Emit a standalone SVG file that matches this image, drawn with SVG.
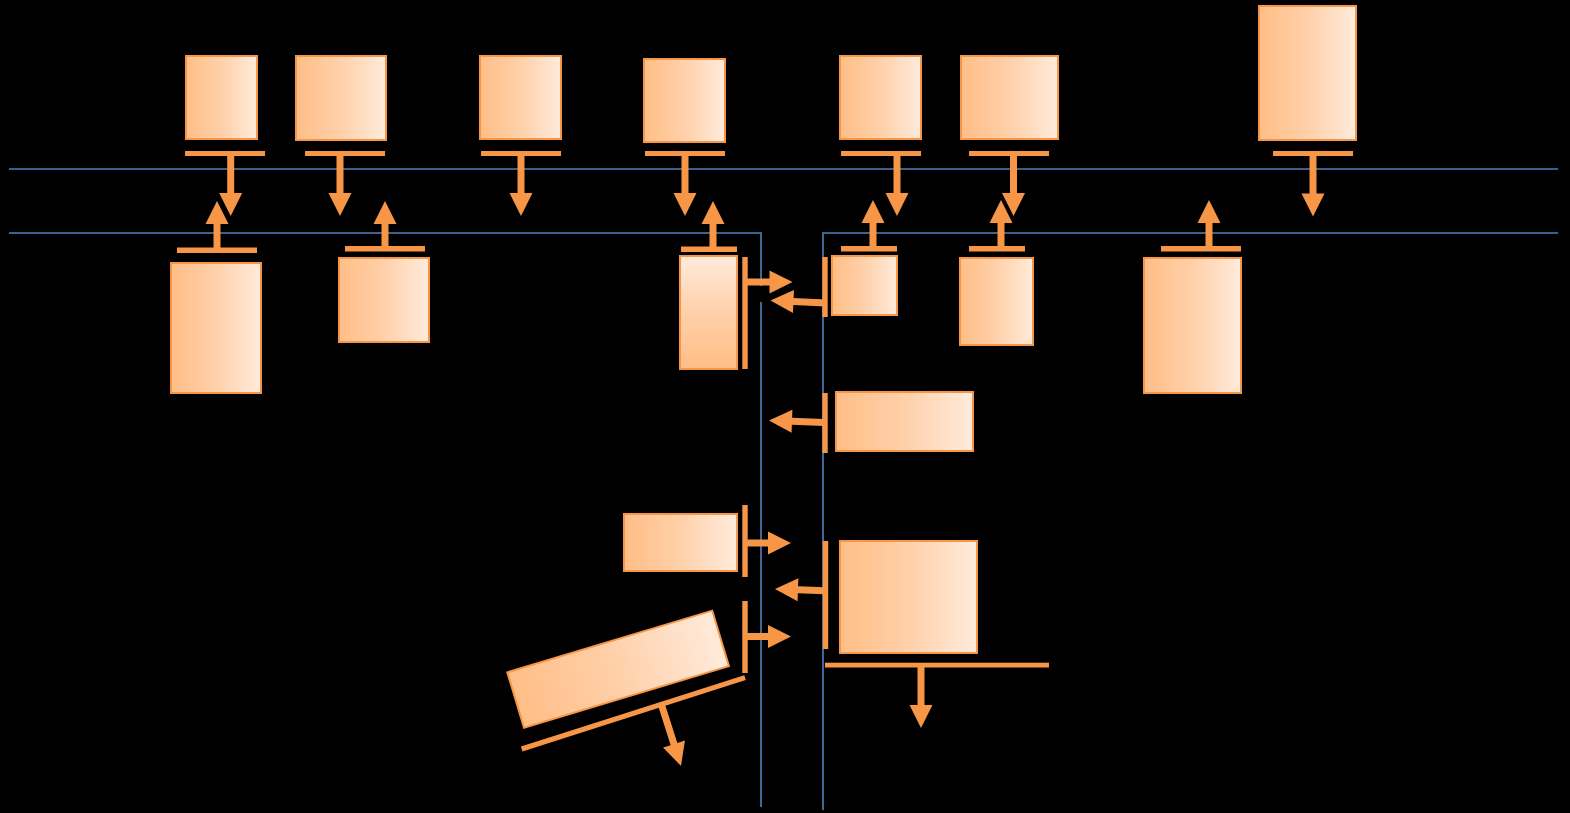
<svg xmlns="http://www.w3.org/2000/svg" width="1570" height="813" viewBox="0 0 1570 813">
  <defs>
    <linearGradient id="fillH" x1="0" y1="0" x2="1" y2="0">
      <stop offset="0" stop-color="#ffbe86"/>
      <stop offset="0.5" stop-color="#ffd0aa"/>
      <stop offset="1" stop-color="#ffebdb"/>
    </linearGradient>
    <linearGradient id="fillV" x1="0" y1="1" x2="0" y2="0">
      <stop offset="0" stop-color="#ffbe86"/>
      <stop offset="0.5" stop-color="#ffd0aa"/>
      <stop offset="1" stop-color="#ffebdb"/>
    </linearGradient>
    <style>
      .box { fill: url(#fillH); stroke: #f79646; stroke-width: 2; }
      .boxv { fill: url(#fillV); stroke: #f79646; stroke-width: 2; }
      .bar { fill: #f79646; }
      .barl { stroke: #f79646; stroke-width: 5; fill: none; }
      .arr { fill: #f79646; }
      .rail { stroke: #4f81bd; stroke-width: 1.6; fill: none; }
    </style>
  </defs>

  <rect x="0" y="0" width="1570" height="813" fill="#000"/>

  <!-- guide rails -->
  <g id="rails">
    <line class="rail" x1="9" y1="169" x2="1558" y2="169"/>
    <polyline class="rail" points="9,233 761,233 761,286"/>
    <line class="rail" x1="761" y1="302" x2="761" y2="807"/>
    <polyline class="rail" points="1558,233 823,233 823,810"/>
  </g>

  <!-- nodes -->
  <g id="n1"><rect class="box" x="186" y="56" width="71" height="83"/></g>
  <g id="n2"><rect class="box" x="296" y="56" width="90" height="84"/></g>
  <g id="n3"><rect class="box" x="480" y="56" width="81" height="83"/></g>
  <g id="n4"><rect class="box" x="644" y="59" width="81" height="83"/></g>
  <g id="n5"><rect class="box" x="840" y="56" width="81" height="83"/></g>
  <g id="n6"><rect class="box" x="961" y="56" width="97" height="83"/></g>
  <g id="n7"><rect class="box" x="1259" y="6" width="97" height="134"/></g>
  <g id="n8"><rect class="box" x="171" y="263" width="90" height="130"/></g>
  <g id="n9"><rect class="box" x="339" y="258" width="90" height="84"/></g>
  <g id="n10"><rect class="boxv" x="680" y="256" width="57" height="113"/></g>
  <g id="n11"><rect class="box" x="832" y="256" width="65" height="59"/></g>
  <g id="n12"><rect class="box" x="960" y="258" width="73" height="87"/></g>
  <g id="n13"><rect class="box" x="1144" y="258" width="97" height="135"/></g>
  <g id="n14"><rect class="box" x="836" y="392" width="137" height="59"/></g>
  <g id="n15"><rect class="box" x="624" y="514" width="113" height="57"/></g>
  <g id="n16"><rect class="box" x="840" y="541" width="137" height="112"/></g>
  <g id="n17"><rect class="box" x="0" y="0" width="214" height="58" transform="translate(507.3,672.3) rotate(-16.75)"/></g>

  <!-- connectors: T-bars and arrows (arrow path: tip at origin, pointing +x) -->
  <g id="connectors">
    <!-- bars above the upper rail -->
    <rect class="bar" x="185" y="151" width="80" height="5"/>
    <rect class="bar" x="305" y="151" width="80" height="5"/>
    <rect class="bar" x="481" y="151" width="80" height="5"/>
    <rect class="bar" x="645" y="151" width="80" height="5"/>
    <rect class="bar" x="841" y="151" width="80" height="5"/>
    <rect class="bar" x="969" y="151" width="80" height="5"/>
    <rect class="bar" x="1273" y="151" width="80" height="5"/>
    <!-- bars below the lower rail -->
    <rect class="bar" x="177" y="247.5" width="80" height="5.5"/>
    <rect class="bar" x="345" y="246" width="80" height="5.5"/>
    <rect class="bar" x="681" y="246.5" width="56" height="5.5"/>
    <rect class="bar" x="841" y="246" width="56" height="5.5"/>
    <rect class="bar" x="969" y="246" width="56" height="5.5"/>
    <rect class="bar" x="1161" y="246" width="80" height="5.5"/>
    <!-- vertical bars beside the channel -->
    <rect class="bar" x="742.3" y="257" width="5.4" height="112"/>
    <rect class="bar" x="822.3" y="257" width="5.4" height="60"/>
    <rect class="bar" x="822.3" y="393" width="5.4" height="60"/>
    <rect class="bar" x="742.3" y="505" width="5.4" height="72"/>
    <rect class="bar" x="742.3" y="601" width="5.4" height="72"/>
    <rect class="bar" x="822.8" y="541" width="5.4" height="108"/>
    <rect class="bar" x="825" y="662.7" width="224" height="4.8"/>
    <line class="barl" x1="521.7" y1="749" x2="745" y2="677.7"/>

    <!-- downward arrows, length 63 -->
    <path class="arr" d="M0,0 l-23,-11.5 v8 h-40 v7 h40 v8 z" transform="translate(230.7,216) rotate(90)"/>
    <path class="arr" d="M0,0 l-23,-11.5 v8 h-40 v7 h40 v8 z" transform="translate(340,216) rotate(90)"/>
    <path class="arr" d="M0,0 l-23,-11.5 v8 h-40 v7 h40 v8 z" transform="translate(521,216) rotate(90)"/>
    <path class="arr" d="M0,0 l-23,-11.5 v8 h-40 v7 h40 v8 z" transform="translate(685,216) rotate(90)"/>
    <path class="arr" d="M0,0 l-23,-11.5 v8 h-40 v7 h40 v8 z" transform="translate(897,216) rotate(90)"/>
    <path class="arr" d="M0,0 l-23,-11.5 v8 h-40 v7 h40 v8 z" transform="translate(1013.5,216) rotate(90)"/>
    <path class="arr" d="M0,0 l-23,-11.5 v8 h-40 v7 h40 v8 z" transform="translate(1313,216.5) rotate(90)"/>
    <path class="arr" d="M0,0 l-23,-11.5 v8 h-40 v7 h40 v8 z" transform="translate(921,728) rotate(90)"/>
    <path class="arr" d="M0,0 l-23,-11.5 v8 h-41 v7 h41 v8 z" transform="translate(681,766) rotate(72.3)"/>

    <!-- upward arrows, length 48 -->
    <path class="arr" d="M0,0 l-23,-11.5 v8 h-26 v7 h26 v8 z" transform="translate(217,201) rotate(-90)"/>
    <path class="arr" d="M0,0 l-23,-11.5 v8 h-25 v7 h25 v8 z" transform="translate(385,201) rotate(-90)"/>
    <path class="arr" d="M0,0 l-23,-11.5 v8 h-25 v7 h25 v8 z" transform="translate(713,201) rotate(-90)"/>
    <path class="arr" d="M0,0 l-23,-11.5 v8 h-26 v7 h26 v8 z" transform="translate(873,200) rotate(-90)"/>
    <path class="arr" d="M0,0 l-23,-11.5 v8 h-26 v7 h26 v8 z" transform="translate(1001,200) rotate(-90)"/>
    <path class="arr" d="M0,0 l-23,-11.5 v8 h-26 v7 h26 v8 z" transform="translate(1209,200) rotate(-90)"/>

    <!-- arrows crossing into the channel -->
    <path class="arr" d="M0,0 l-23,-11.5 v8 h-25 v7 h25 v8 z" transform="translate(792.5,282)"/>
    <path class="arr" d="M0,0 l-23,-11.5 v8 h-25 v7 h25 v8 z" transform="translate(791,543)"/>
    <path class="arr" d="M0,0 l-23,-11.5 v8 h-25 v7 h25 v8 z" transform="translate(791,636.5)"/>

    <!-- arrows leaving the right side toward the channel -->
    <path class="arr" d="M0,0 l-23,-11.5 v8 h-32 v7 h32 v8 z" transform="translate(770.5,300.5) rotate(182.5)"/>
    <path class="arr" d="M0,0 l-23,-11.5 v8 h-32 v7 h32 v8 z" transform="translate(769,420.5) rotate(182)"/>
    <path class="arr" d="M0,0 l-23,-11.5 v8 h-27 v7 h27 v8 z" transform="translate(775,589) rotate(182)"/>
  </g>
</svg>
